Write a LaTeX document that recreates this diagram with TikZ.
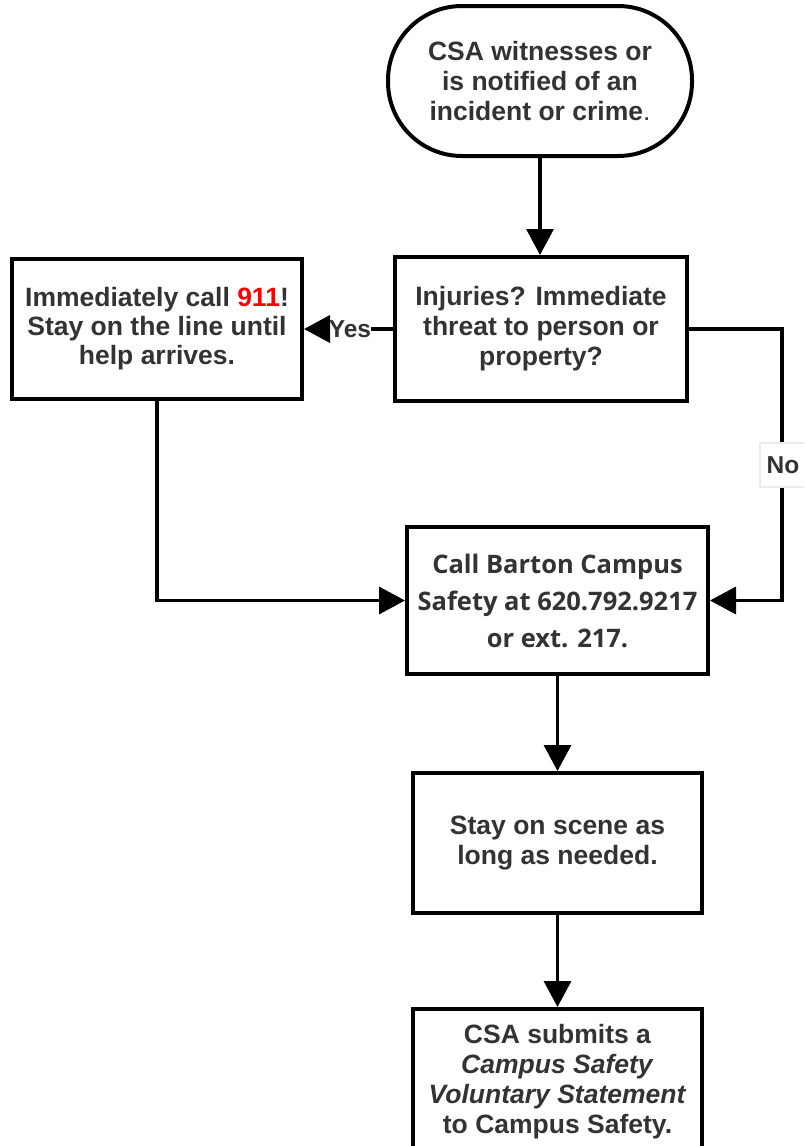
\documentclass[tikz,border=0pt]{standalone}
\usepackage{fontspec}
\setmainfont{Liberation Sans}
\newfontfamily\callfont{Open Sans}
\usetikzlibrary{arrows.meta}
\definecolor{txtgray}{RGB}{51,51,51}
\definecolor{nogray}{RGB}{235,235,235}
\begin{document}
\begin{tikzpicture}[x=1pt,y=-1pt,
  every node/.style={text=txtgray,font=\fontsize{26.5pt}{30pt}\selectfont\bfseries,align=center},
  boxnode/.style={draw=black,line width=4pt,fill=white,inner sep=0pt},
  plainline/.style={draw=black,line width=3.5pt},
  conn/.style={plainline,-{Triangle[length=26pt,width=27pt]}},
  lbl/.style={font=\fontsize{24.5pt}{26pt}\selectfont\bfseries,inner sep=1pt}]
\useasboundingbox (0,0) rectangle (804,1146);
\clip (0,0) rectangle (804,1146);
\fill[white] (0,0) rectangle (804,1146);

\node[boxnode,rounded corners=74pt,minimum width=304pt,minimum height=150pt] (start) at (540,81)
  {CSA witnesses or\\is notified of an\\incident or crime\textmd{.}};
\node[boxnode,minimum width=292pt,minimum height=144pt] (inj) at (541,329)
  {Injuries? Immediate\\threat to person or\\property?};
\node[boxnode,minimum width=290pt,minimum height=140pt,font=\fontsize{26.5pt}{29pt}\selectfont\bfseries] (imm) at (157,329)
  {Immediately call \textcolor{red}{911}!\\Stay on the line until\\help arrives.};
\node[boxnode,minimum width=301pt,minimum height=147pt,font=\callfont\fontsize{25.5pt}{37pt}\selectfont\bfseries] (call) at (557.5,600.5)
  {Call Barton Campus\\Safety at 620.792.9217\\or ext. 217.};
\node[boxnode,minimum width=289pt,minimum height=140pt] (stay) at (557.5,843)
  {Stay on scene as\\long as needed.};
\node[boxnode,minimum width=289pt,minimum height=146pt] (last) at (557.5,1082)
  {CSA submits a\\\textit{Campus Safety}\\\textit{Voluntary Statement}\\to Campus Safety.};

\coordinate (nocol) at (782,0);
\node[lbl,inner sep=0pt] (yes) at (350,329) {Yes};

\draw[conn] (start.south) -- (start.south |- inj.north);
\draw[plainline] (inj.west) -- (yes.east);
\draw[conn] (yes.west) -- (yes.west -| imm.east);
\draw[conn] (inj.east) -- (inj.east -| nocol) -- (call.east -| nocol) -- (call.east);
\node[lbl,fill=white,draw=nogray,line width=2pt,minimum width=46pt,minimum height=44pt,inner sep=0pt] (no) at (783,465) {No};
\draw[conn] (imm.south) -- (imm.south |- call.west) -- (call.west);
\draw[conn] (call.south) -- (stay.north);
\draw[conn] (stay.south) -- (last.north);
\end{tikzpicture}
\end{document}
